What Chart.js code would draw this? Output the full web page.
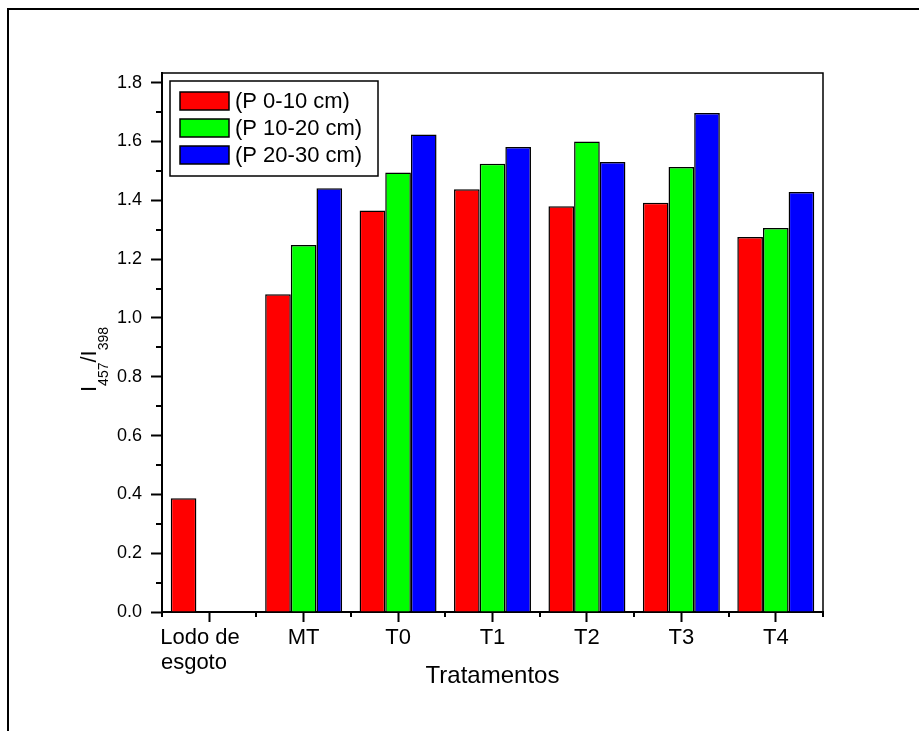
<!DOCTYPE html>
<html>
<head>
<meta charset="utf-8">
<script src="https://cdn.jsdelivr.net/npm/chart.js@4.4.1/dist/chart.umd.min.js"></script>
<style>
  html, body { margin: 0; padding: 0; background: #fff; }
  #wrap { width: 919px; height: 731px; }
</style>
</head>
<body>
<div id="wrap"><canvas id="c" width="919" height="731"></canvas></div>
<script>
// Treatments on the x axis (trailing spaces keep the two-line label flush left)
const categories = [["Lodo de   ", "esgoto     "], "MT", "T0", "T1", "T2", "T3", "T4"];
// Soil depth layers
const seriesLabels = ["(P 0-10 cm)", "(P 10-20 cm)", "(P 20-30 cm)"];
// I457/I398 ratio per depth layer
const depth0to10 = [0.387, 1.081, 1.365, 1.438, 1.380, 1.392, 1.275];
const depth10to20 = [null, 1.248, 1.495, 1.524, 1.600, 1.513, 1.306];
const depth20to30 = [null, 1.441, 1.624, 1.581, 1.530, 1.697, 1.428];
// Y axis
const yMin = 0;
const yMax = 1.833;
const yStep = 0.2;
const yMinorValues = [0.1, 0.3, 0.5, 0.7, 0.9, 1.1, 1.3, 1.5, 1.7];

const FONT = '"Liberation Sans", Arial, Helvetica, sans-serif';
const seriesColors = ['#ff0000', '#00ff00', '#0000ff'];

// Page frame, plot border, minor ticks, boxed legend and y-axis title with subscripts
const decorations = {
  id: 'decorations',
  beforeDraw(chart) {
    const ctx = chart.ctx;
    ctx.save();
    ctx.fillStyle = '#fff';
    ctx.fillRect(0, 0, chart.width, chart.height);
    ctx.strokeStyle = '#000';
    ctx.lineWidth = 2;
    ctx.beginPath();
    ctx.moveTo(8, chart.height);
    ctx.lineTo(8, 9);
    ctx.lineTo(chart.width, 9);
    ctx.stroke();
    ctx.restore();
  },
  afterDraw(chart) {
    const ctx = chart.ctx;
    const area = chart.chartArea;
    const xs = chart.scales.x;
    const ys = chart.scales.y;
    ctx.save();
    ctx.strokeStyle = '#000';

    // top and right border of the plot box
    ctx.lineWidth = 1.5;
    ctx.beginPath();
    ctx.moveTo(area.left, area.top);
    ctx.lineTo(area.right, area.top);
    ctx.lineTo(area.right, area.bottom);
    ctx.stroke();

    // minor ticks
    ctx.lineWidth = 2;
    ctx.beginPath();
    yMinorValues.forEach(v => {
      const py = Math.round(ys.getPixelForValue(v));
      ctx.moveTo(area.left, py);
      ctx.lineTo(area.left - 6, py);
    });
    for (let i = 0; i <= categories.length; i++) {
      const px = Math.round(xs.getPixelForValue(i - 0.5));
      ctx.moveTo(px, area.bottom);
      ctx.lineTo(px, area.bottom + 5);
    }
    ctx.stroke();

    // legend box
    const lx = area.left + 8, ly = area.top + 8, lw = 208, lh = 95;
    ctx.fillStyle = '#fff';
    ctx.fillRect(lx, ly, lw, lh);
    ctx.lineWidth = 1.5;
    ctx.strokeRect(lx, ly, lw, lh);
    ctx.font = '22px ' + FONT;
    ctx.textBaseline = 'middle';
    ctx.textAlign = 'left';
    chart.data.datasets.forEach((ds, i) => {
      const sy = ly + 11 + i * 27;
      ctx.fillStyle = ds.backgroundColor;
      ctx.fillRect(lx + 10, sy, 49, 18);
      ctx.strokeRect(lx + 10, sy, 49, 18);
      ctx.fillStyle = '#000';
      ctx.fillText(ds.label, lx + 65, sy + 10);
    });

    // y-axis title: I457/I398
    ctx.translate(96, 392);
    ctx.rotate(-Math.PI / 2);
    ctx.fillStyle = '#000';
    ctx.textBaseline = 'alphabetic';
    const parts = [
      ['I', 22, 0], ['457', 14, 12], ['/', 22, 0], ['I', 22, 0], ['398', 14, 12]
    ];
    let x = 0;
    parts.forEach(([t, size, dy]) => {
      ctx.font = size + 'px ' + FONT;
      ctx.fillText(t, x, dy);
      x += ctx.measureText(t).width;
    });
    ctx.restore();
  }
};

new Chart(document.getElementById('c'), {
  type: 'bar',
  data: {
    labels: categories,
    datasets: [
      { label: seriesLabels[0], data: depth0to10, backgroundColor: seriesColors[0] },
      { label: seriesLabels[1], data: depth10to20, backgroundColor: seriesColors[1] },
      { label: seriesLabels[2], data: depth20to30, backgroundColor: seriesColors[2] }
    ].map(d => Object.assign(d, {
      borderColor: '#000',
      borderWidth: 1.5,
      barPercentage: 1,
      categoryPercentage: 0.815
    }))
  },
  options: {
    responsive: false,
    animation: false,
    devicePixelRatio: 1,
    layout: { padding: { left: 0, top: 73, right: 96, bottom: 0 } },
    plugins: { legend: { display: false }, tooltip: { enabled: false } },
    scales: {
      x: {
        offset: true,
        grid: { offset: false, drawOnChartArea: false, tickLength: 10, tickWidth: 2, tickColor: '#000' },
        border: { display: true, width: 2, color: '#000' },
        ticks: {
          color: '#000',
          padding: 3,
          maxRotation: 0,
          autoSkip: false,
          font: { family: FONT, size: 22, lineHeight: 1.15 }
        },
        title: {
          display: true,
          text: 'Tratamentos',
          color: '#000',
          font: { family: FONT, size: 24, lineHeight: 1.2 },
          padding: { top: 0, bottom: 40 }
        },
        afterFit(scale) { scale.height = 119; }
      },
      y: {
        min: yMin,
        max: yMax,
        grid: { drawOnChartArea: false, tickLength: 11, tickWidth: 2, tickColor: '#000' },
        border: { display: true, width: 2, color: '#000' },
        ticks: {
          stepSize: yStep,
          includeBounds: false,
          color: '#000',
          padding: 9,
          font: { family: FONT, size: 18 },
          callback: v => Number(v).toFixed(1)
        },
        afterBuildTicks(scale) {
          scale.ticks = scale.ticks.filter(t => Math.abs(t.value / yStep - Math.round(t.value / yStep)) < 1e-6);
        },
        afterFit(scale) { scale.width = 162; }
      }
    }
  },
  plugins: [decorations]
});
</script>
</body>
</html>
